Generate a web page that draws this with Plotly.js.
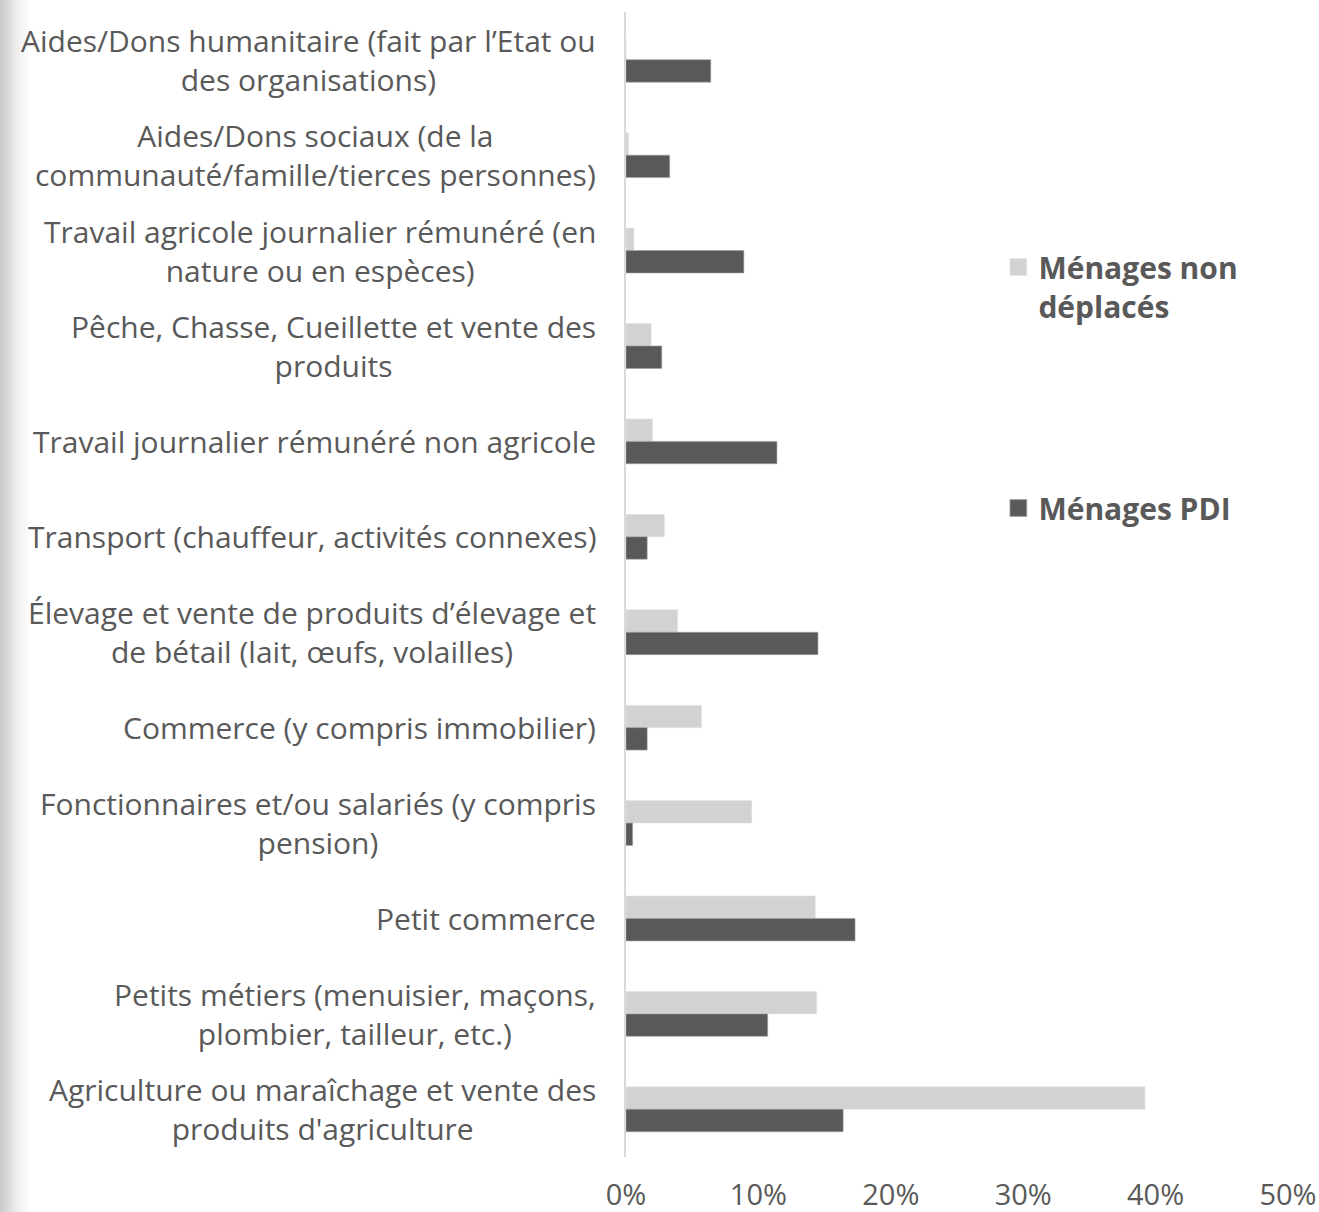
<!DOCTYPE html>
<html>
<head>
<meta charset="utf-8">
<script src="https://cdn.plot.ly/plotly-3.0.1.min.js"></script>
<style>
html,body{margin:0;padding:0;}
body{background:linear-gradient(to right,#c9c9c9 0px,#d9d9d9 8px,#f0f0f0 18px,#ffffff 32px);}
#chart{width:1319px;height:1212px;}
</style>
</head>
<body>
<div id="chart"></div>
<script>
const categories = [
  "Aides/Dons humanitaire (fait par l’Etat ou<br>des organisations)",
  "Aides/Dons sociaux (de la<br>communauté/famille/tierces personnes)",
  "Travail agricole journalier rémunéré (en<br>nature ou en espèces)",
  "Pêche, Chasse, Cueillette et vente des<br>produits",
  "Travail journalier rémunéré non agricole",
  "Transport (chauffeur, activités connexes)",
  "Élevage et vente de produits d’élevage et<br>de bétail (lait, œufs, volailles)",
  "Commerce (y compris immobilier)",
  "Fonctionnaires et/ou salariés (y compris<br>pension)",
  "Petit commerce",
  "Petits métiers (menuisier, maçons,<br>plombier, tailleur, etc.)",
  "Agriculture ou maraîchage et vente des<br>produits d'agriculture"
];
const nonDeplaces = [0.000, 0.002, 0.006, 0.019, 0.020, 0.029, 0.039, 0.057, 0.095, 0.143, 0.144, 0.392];
const pdi         = [0.064, 0.033, 0.089, 0.027, 0.114, 0.016, 0.145, 0.016, 0.005, 0.173, 0.107, 0.164];
const seriesNames = ["<b>Ménages non<br>déplacés</b>", "<b>Ménages PDI</b>"];
const xTickVals = [0, 0.1, 0.2, 0.3, 0.4, 0.5];
const xTickText = ["0%", "10%", "20%", "30%", "40%", "50%"];

const txtColor = "#595959";
const font = "'Open Sans', 'Segoe UI', sans-serif";

const traces = [
  {type:"bar", orientation:"h", name:seriesNames[0], y:categories, x:nonDeplaces,
   legendgroup:"a", marker:{color:"#d1d2d4", line:{color:"#e4e4e4", width:0.6}}, hoverinfo:"x"},
  {type:"bar", orientation:"h", name:seriesNames[1], y:categories, x:pdi,
   legendgroup:"b", marker:{color:"#58595b", line:{color:"#a0a0a0", width:0.6}}, hoverinfo:"x"}
];

const annotations = categories.map(c => ({
  xref:"paper", yref:"y", x:0, y:c, xanchor:"right", yanchor:"middle",
  xshift:-28, align:"center", showarrow:false, text:c,
  font:{family:font, size:30, color:txtColor}
}));

const layout = {
  width:1319, height:1212,
  margin:{l:626, r:31, t:12, b:55},
  paper_bgcolor:"rgba(0,0,0,0)", plot_bgcolor:"rgba(0,0,0,0)",
  barmode:"group", bargap:0.53, bargroupgap:0,
  font:{family:font, color:txtColor},
  xaxis:{range:[0,0.5], tickvals:xTickVals, ticktext:xTickText, showgrid:false,
         zeroline:false, showline:false, ticks:"", ticklabelstandoff:18,
         tickfont:{family:font, size:29, color:txtColor}, fixedrange:true},
  yaxis:{autorange:"reversed", showticklabels:false, showgrid:false, zeroline:false,
         showline:true, linecolor:"#d9d9d9", linewidth:2, ticks:"", fixedrange:true},
  legend:{x:0.5625, y:0.80, xanchor:"left", yanchor:"top", traceorder:"grouped",
          tracegroupgap:160, valign:"top", bgcolor:"rgba(0,0,0,0)",
          font:{family:font, size:30, color:txtColor}},
  annotations:annotations,
  showlegend:true
};

Plotly.newPlot("chart", traces, layout, {displayModeBar:false, staticPlot:true}).then(gd => {
  gd.querySelectorAll(".legend .legendpoints path").forEach(p => {
    const t = p.getAttribute("transform") || "";
    p.setAttribute("transform", t + " scale(1.4)");
  });
});
</script>
</body>
</html>
